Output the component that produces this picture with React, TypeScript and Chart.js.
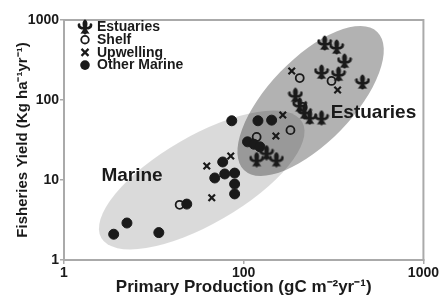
import React, { useEffect, useRef } from 'react';
import { Chart, registerables } from 'chart.js';

Chart.register(...registerables);

// ---- Data ----
const estuariesX = [282, 329, 364, 271, 337, 458, 194, 205, 218, 233, 271, 134, 118, 152];
const estuariesY = [516, 460, 307, 224, 211, 168, 115, 87, 71, 61, 60, 22, 18, 18];

const shelfX = [205, 308, 182, 118, 44, 213];
const shelfY = [188, 173, 42, 34.5, 4.9, 82];

const upwellingX = [185, 333, 165, 151, 84.7, 62.3, 66.4];
const upwellingY = [230, 133, 65, 35.5, 20, 15, 6];

const otherMarineX = [85.8, 120, 143, 105, 114, 123, 76.4, 69, 78.4, 89, 89, 89, 48.2, 22.4, 18.9, 33.7];
const otherMarineY = [55, 55, 56, 30, 28, 26, 16.8, 10.6, 11.9, 12.2, 8.9, 6.7, 5.0, 2.9, 2.1, 2.2];

const seriesNames = ['Estuaries', 'Shelf', 'Upwelling', 'Other Marine'];

const xTickValues = [10, 100, 1000];
const xTickLabels = ['1', '100', '1000'];
const yTickValues = [1, 10, 100, 1000];
const yTickLabels = ['1', '10', '100', '1000'];

const xTitle = 'Primary Production (gC m\u207B\u00B2yr\u207B\u00B9)';
const yTitle = 'Fisheries Yield (Kg ha\u207B\u00B9yr\u207B\u00B9)';

// Region annotations (shaded ellipses + labels)
const regionNames = ['Marine', 'Estuaries'];
const regionCenterX = [58.4, 235.6];
const regionCenterY = [10, 97.2];
const regionLabelX = [23.9, 527];
const regionLabelY = [11.2, 68.8];

const FONT = "'Liberation Sans', Arial, Helvetica, sans-serif";
const INK = '#1a1a1a';

const regionStyle = [
  { rx: 116, ry: 44, angle: 30, fill: 'rgba(0,0,0,0.145)' },
  { rx: 96, ry: 42, angle: 46, fill: 'rgba(0,0,0,0.30)' },
];

function toPoints(xs: number[], ys: number[]) {
  return xs.map((x, i) => ({ x, y: ys[i] }));
}

function makeFleur(size: number, color: string): HTMLCanvasElement {
  const c = document.createElement('canvas');
  c.width = size;
  c.height = size;
  const g = c.getContext('2d')!;
  g.fillStyle = color;
  g.scale(size / 16, size / 16);
  // center petal
  g.beginPath();
  g.moveTo(8, 0.3);
  g.bezierCurveTo(11.2, 2.5, 10.8, 6, 9.6, 8.6);
  g.lineTo(6.4, 8.6);
  g.bezierCurveTo(5.2, 6, 4.8, 2.5, 8, 0.3);
  g.fill();
  // left petal
  g.beginPath();
  g.moveTo(7, 10.2);
  g.bezierCurveTo(3.2, 11, 0.0, 8.8, 0.8, 5.0);
  g.bezierCurveTo(1.6, 3.8, 3.6, 4.2, 3.3, 5.8);
  g.bezierCurveTo(3.2, 7.4, 4.8, 8.0, 7, 8.0);
  g.fill();
  // right petal
  g.beginPath();
  g.moveTo(9, 10.2);
  g.bezierCurveTo(12.8, 11, 16.0, 8.8, 15.2, 5.0);
  g.bezierCurveTo(14.4, 3.8, 12.4, 4.2, 12.7, 5.8);
  g.bezierCurveTo(12.8, 7.4, 11.2, 8.0, 9, 8.0);
  g.fill();
  // band
  g.fillRect(3.8, 8.0, 8.4, 2.3);
  // base
  g.beginPath();
  g.moveTo(6.4, 10);
  g.quadraticCurveTo(5.0, 12.5, 3.4, 14.8);
  g.quadraticCurveTo(6.2, 13.6, 8, 15.8);
  g.quadraticCurveTo(9.8, 13.6, 12.6, 14.8);
  g.quadraticCurveTo(11.0, 12.5, 9.6, 10);
  g.closePath();
  g.fill();
  return c;
}

export default function App() {
  const ref = useRef<HTMLCanvasElement | null>(null);

  useEffect(() => {
    document.body.style.margin = '0';
    const canvas = ref.current;
    if (!canvas) return;
    const fleur = makeFleur(16, INK);

    const regionsPlugin = {
      id: 'regions',
      beforeDatasetsDraw(chart: any) {
        const { ctx, scales } = chart;
        const xs = scales.x;
        const ys = scales.y;
        ctx.save();
        regionNames.forEach((_, i) => {
          const st = regionStyle[i];
          const px = xs.getPixelForValue(regionCenterX[i]);
          const py = ys.getPixelForValue(regionCenterY[i]);
          ctx.beginPath();
          ctx.ellipse(px, py, st.rx, st.ry, (-st.angle * Math.PI) / 180, 0, Math.PI * 2);
          ctx.fillStyle = st.fill;
          ctx.fill();
        });
        ctx.restore();
      },
      afterDatasetsDraw(chart: any) {
        const { ctx, scales, chartArea } = chart;
        const xs = scales.x;
        const ys = scales.y;
        ctx.save();
        // region labels
        ctx.font = `bold 19px ${FONT}`;
        ctx.fillStyle = INK;
        ctx.textAlign = 'center';
        ctx.textBaseline = 'middle';
        regionNames.forEach((name, i) => {
          ctx.fillText(name, xs.getPixelForValue(regionLabelX[i]), ys.getPixelForValue(regionLabelY[i]));
        });
        // frame
        ctx.strokeStyle = '#aaaaaa';
        ctx.lineWidth = 2;
        ctx.strokeRect(chartArea.left, chartArea.top, chartArea.right - chartArea.left, chartArea.bottom - chartArea.top);
        // legend
        const sx = chartArea.left + 21;
        const tx = chartArea.left + 33;
        const y0 = chartArea.top + 7;
        const dy = 12.7;
        ctx.font = `bold 14px ${FONT}`;
        ctx.textAlign = 'left';
        ctx.textBaseline = 'middle';
        seriesNames.forEach((name, i) => {
          const y = y0 + i * dy;
          ctx.fillStyle = INK;
          ctx.strokeStyle = INK;
          if (i === 0) {
            ctx.drawImage(fleur, sx - fleur.width / 2, y - fleur.height / 2);
          } else if (i === 1) {
            ctx.lineWidth = 1.8;
            ctx.beginPath();
            ctx.arc(sx, y, 3.8, 0, Math.PI * 2);
            ctx.stroke();
          } else if (i === 2) {
            ctx.lineWidth = 2.2;
            ctx.beginPath();
            ctx.moveTo(sx - 3.5, y - 3.5);
            ctx.lineTo(sx + 3.5, y + 3.5);
            ctx.moveTo(sx + 3.5, y - 3.5);
            ctx.lineTo(sx - 3.5, y + 3.5);
            ctx.stroke();
          } else {
            ctx.beginPath();
            ctx.arc(sx, y, 4.8, 0, Math.PI * 2);
            ctx.fill();
          }
          ctx.fillText(name, tx, y + 0.5);
        });
        ctx.restore();
      },
    };

    const chart = new Chart(canvas, {
      type: 'scatter',
      data: {
        datasets: [
          {
            label: seriesNames[3],
            data: toPoints(otherMarineX, otherMarineY),
            pointStyle: 'circle',
            pointRadius: 5,
            backgroundColor: INK,
            borderColor: INK,
            borderWidth: 1,
          },
          {
            label: seriesNames[1],
            data: toPoints(shelfX, shelfY),
            pointStyle: 'circle',
            pointRadius: 4,
            backgroundColor: 'rgba(0,0,0,0)',
            borderColor: INK,
            borderWidth: 1.8,
          },
          {
            label: seriesNames[2],
            data: toPoints(upwellingX, upwellingY),
            pointStyle: 'crossRot',
            pointRadius: 4.6,
            borderColor: INK,
            borderWidth: 2.2,
          },
          {
            label: seriesNames[0],
            data: toPoints(estuariesX, estuariesY),
            pointStyle: fleur as any,
            pointRadius: 8,
            backgroundColor: INK,
            borderColor: INK,
          },
        ],
      },
      options: {
        responsive: false,
        animation: false,
        devicePixelRatio: 1,
        layout: { padding: { left: 0, right: 16, top: 20, bottom: 0 } },
        plugins: {
          legend: { display: false },
          tooltip: { enabled: false },
        },
        scales: {
          x: {
            type: 'logarithmic',
            min: 10,
            max: 1000,
            afterBuildTicks: (s: any) => {
              s.ticks = xTickValues.map((v) => ({ value: v }));
            },
            afterFit: (s: any) => {
              s.height = 38;
            },
            ticks: {
              autoSkip: false,
              maxRotation: 0,
              padding: 1,
              color: INK,
              font: { family: FONT, size: 14, weight: 'bold' },
              callback: (v: any) => {
                const i = xTickValues.indexOf(Number(v));
                return i >= 0 ? xTickLabels[i] : '';
              },
            },
            grid: { drawOnChartArea: false, drawTicks: true, tickLength: 4, color: '#aaaaaa', lineWidth: 1.5 },
            border: { display: true, color: '#aaaaaa', width: 2 },
            title: {
              display: true,
              text: xTitle,
              color: INK,
              font: { family: FONT, size: 17, weight: 'bold' },
              padding: { top: 0, bottom: 0 },
            },
          },
          y: {
            type: 'logarithmic',
            min: 1,
            max: 1000,
            afterBuildTicks: (s: any) => {
              s.ticks = yTickValues.map((v) => ({ value: v }));
            },
            afterFit: (s: any) => {
              s.width = 64;
            },
            ticks: {
              autoSkip: false,
              padding: 1,
              color: INK,
              font: { family: FONT, size: 14, weight: 'bold' },
              callback: (v: any) => {
                const i = yTickValues.indexOf(Number(v));
                return i >= 0 ? yTickLabels[i] : '';
              },
            },
            grid: { drawOnChartArea: false, drawTicks: true, tickLength: 4, color: '#aaaaaa', lineWidth: 1.5 },
            border: { display: true, color: '#aaaaaa', width: 2 },
            title: {
              display: true,
              text: yTitle,
              color: INK,
              font: { family: FONT, size: 15, weight: 'bold' },
              padding: { top: 14, bottom: 0 },
            },
          },
        },
      } as any,
      plugins: [regionsPlugin],
    });

    return () => {
      chart.destroy();
    };
  }, []);

  return (
    <div style={{ width: 440, height: 298, background: '#fff' }}>
      <canvas ref={ref} width={440} height={298} style={{ display: 'block', width: 440, height: 298 }} />
    </div>
  );
}
